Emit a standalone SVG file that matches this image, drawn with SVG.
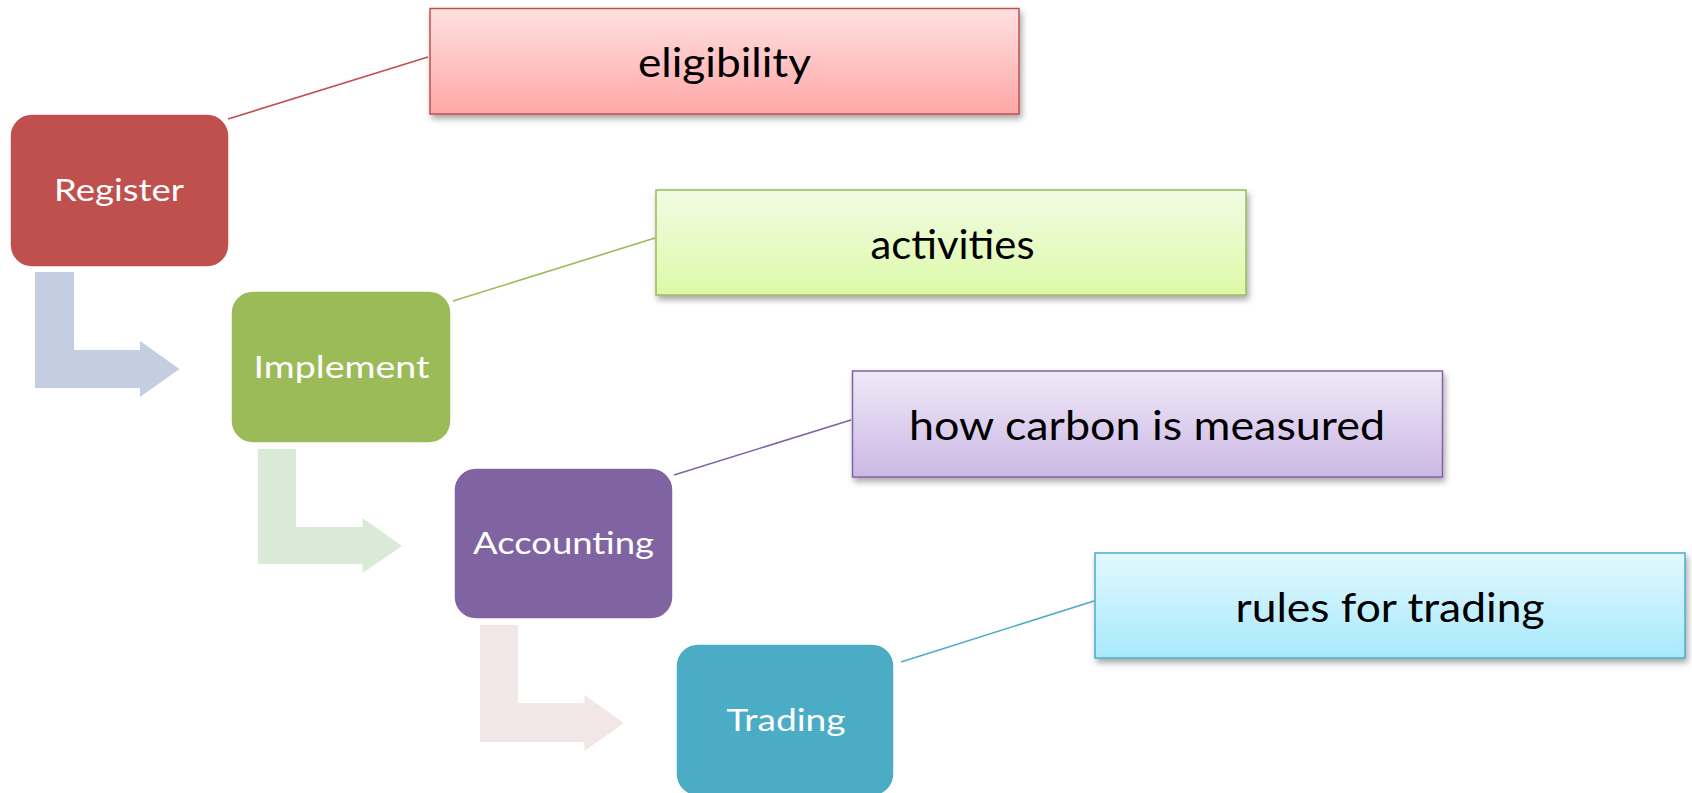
<svg xmlns="http://www.w3.org/2000/svg" width="1692" height="793" viewBox="0 0 1692 793">
<style>
.node{stroke:#ffffff;stroke-width:1.5}
.ntxt{font-family:Lato,"Open Sans",sans-serif;font-size:30px;fill:#ffffff;text-anchor:middle}
.ctxt{font-family:Lato,"Open Sans",sans-serif;font-size:41px;fill:#000000;text-anchor:middle}
.box{stroke-width:1.5;filter:url(#sh)}
.con{fill:none;stroke-width:1.6}
</style>
<defs>
<filter id="sh" x="-5%" y="-20%" width="115%" height="150%">
<feDropShadow dx="2" dy="4" stdDeviation="3" flood-color="#000" flood-opacity="0.35"/>
</filter>
<linearGradient id="gR" x1="0" y1="0" x2="0" y2="1"><stop offset="0" stop-color="#FFE1E1"/><stop offset="1" stop-color="#FFA6A6"/></linearGradient>
<linearGradient id="gG" x1="0" y1="0" x2="0" y2="1"><stop offset="0" stop-color="#F1FCE4"/><stop offset="1" stop-color="#DCFAA8"/></linearGradient>
<linearGradient id="gP" x1="0" y1="0" x2="0" y2="1"><stop offset="0" stop-color="#F0E9F8"/><stop offset="1" stop-color="#CBB7E5"/></linearGradient>
<linearGradient id="gT" x1="0" y1="0" x2="0" y2="1"><stop offset="0" stop-color="#E2F8FE"/><stop offset="1" stop-color="#A8E9FC"/></linearGradient>
</defs>
<rect width="1692" height="793" fill="#ffffff"/>
<g id="connectors">
<polygon points="35,272 74,272 74,350 140,350 140,341 179.5,369 140,397 140,388 35,388" fill="#C3CEE2"/>
<polygon points="258,449 296,449 296,527 362.5,527 362.5,518 402,546 362.5,573 362.5,564 258,564" fill="#D9EAD7"/>
<polygon points="480,625 518,625 518,703 584.5,703 584.5,695 624,723 584.5,751 584.5,742 480,742" fill="#F2E7E7"/>
<line class="con" x1="228" y1="119" x2="428" y2="57" stroke="#C0504D"/>
<line class="con" x1="453" y1="301" x2="655" y2="238" stroke="#9BBB59"/>
<line class="con" x1="674" y1="475" x2="851" y2="420" stroke="#8064A2"/>
<line class="con" x1="901" y1="662" x2="1094" y2="601" stroke="#4BACC6"/>
</g>
<g id="register">
<rect class="node" x="10" y="114" width="219" height="153" rx="22" fill="#C0504D"/>
<text class="ntxt" x="119" y="201" textLength="130" lengthAdjust="spacingAndGlyphs">Register</text>
</g>
<g id="implement">
<rect class="node" x="231" y="291" width="220" height="152" rx="22" fill="#9BBB59"/>
<text class="ntxt" x="341.5" y="378" textLength="176" lengthAdjust="spacingAndGlyphs">Implement</text>
</g>
<g id="accounting">
<rect class="node" x="454" y="468" width="219" height="151" rx="22" fill="#8064A2"/>
<text class="ntxt" x="563.5" y="554" textLength="181" lengthAdjust="spacingAndGlyphs">Accounting</text>
</g>
<g id="trading">
<rect class="node" x="676" y="644" width="218" height="152" rx="22" fill="#4BACC6"/>
<text class="ntxt" x="786" y="731" textLength="119" lengthAdjust="spacingAndGlyphs">Trading</text>
</g>
<g id="eligibility">
<rect class="box" x="430" y="8.5" width="589" height="105.5" fill="url(#gR)" stroke="#C0504D"/>
<text class="ctxt" x="724.5" y="77" textLength="173" lengthAdjust="spacingAndGlyphs">eligibility</text>
</g>
<g id="activities">
<rect class="box" x="656" y="190" width="590" height="105" fill="url(#gG)" stroke="#9BBB59"/>
<text class="ctxt" x="952.5" y="259" textLength="164" lengthAdjust="spacingAndGlyphs">activities</text>
</g>
<g id="measured">
<rect class="box" x="852.5" y="371" width="590" height="106" fill="url(#gP)" stroke="#8064A2"/>
<text class="ctxt" x="1147" y="440" textLength="476" lengthAdjust="spacingAndGlyphs">how carbon is measured</text>
</g>
<g id="rules">
<rect class="box" x="1095" y="553" width="590" height="105" fill="url(#gT)" stroke="#4BACC6"/>
<text class="ctxt" x="1390" y="622" textLength="309" lengthAdjust="spacingAndGlyphs">rules for trading</text>
</g>
</svg>
